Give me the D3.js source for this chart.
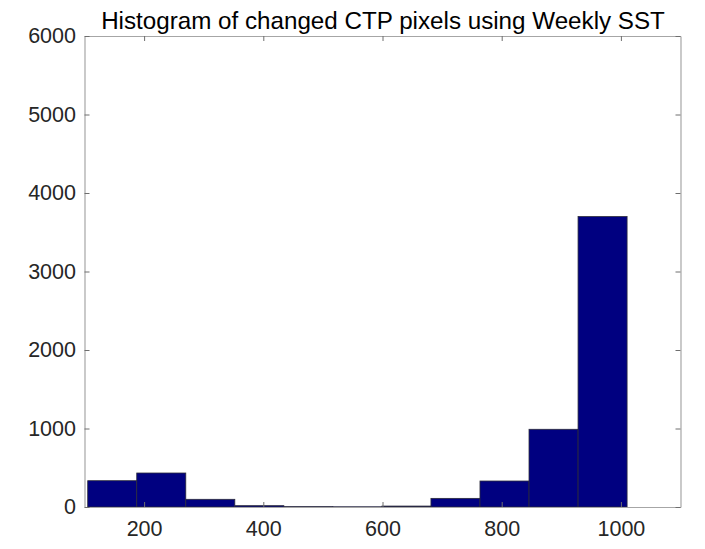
<!DOCTYPE html>
<html>
<head>
<meta charset="utf-8">
<script src="https://cdn.jsdelivr.net/npm/d3@7/dist/d3.min.js"></script>
<style>
  html, body { margin: 0; padding: 0; background: #fff; }
  svg { display: block; font-family: "Liberation Sans", Arial, Helvetica, sans-serif; }
</style>
</head>
<body>
<svg id="chart" width="705" height="549"></svg>
<script>
// Histogram bins: left edge of the first bin, common bin width, and counts
const binStart = 105.4;
const binWidth = 82.27;
const counts = [335, 433, 98, 17, 5, 3, 12, 110, 331, 990, 3700];

// Axis limits and tick values
const xDomain = [100, 1100];
const yDomain = [0, 6000];
const xTicks = [200, 400, 600, 800, 1000];
const yTicks = [0, 1000, 2000, 3000, 4000, 5000, 6000];
const titleText = "Histogram of changed CTP pixels using Weekly SST";

const bins = counts.map((c, i) => ({
  x0: binStart + i * binWidth,
  x1: binStart + (i + 1) * binWidth,
  count: c
}));

const svg = d3.select("#chart");
const plotLeft = 84.5, plotRight = 680.5, plotTop = 36, plotBottom = 507;

const x = d3.scaleLinear().domain(xDomain).range([plotLeft, plotRight]);
const y = d3.scaleLinear().domain(yDomain).range([plotBottom, plotTop]);

const textColor = "#262626";
const axisColor = "#a6a6a6";
const tickColor = "#6e6e6e";
const tickLen = 5;

// Bars
svg.append("g")
  .selectAll("rect")
  .data(bins)
  .join("rect")
  .attr("x", d => x(d.x0))
  .attr("width", d => x(d.x1) - x(d.x0))
  .attr("y", d => y(d.count))
  .attr("height", d => y(0) - y(d.count))
  .attr("fill", "#000080")
  .attr("stroke", "#2b2b3a")
  .attr("stroke-width", 0.8);

// Axes box (ticks drawn inward on all four sides)
const fontSize = 21.5;
const plain = d3.format("d");

const xAxisBottom = d3.axisBottom(x).tickValues(xTicks).tickFormat(plain).tickSizeInner(-tickLen).tickSizeOuter(0).tickPadding(14);
const xAxisTop = d3.axisTop(x).tickValues(xTicks).tickSizeInner(-tickLen).tickSizeOuter(0).tickFormat("");
const yAxisLeft = d3.axisLeft(y).tickValues(yTicks).tickFormat(plain).tickSizeInner(-tickLen).tickSizeOuter(0).tickPadding(8.5);
const yAxisRight = d3.axisRight(y).tickValues(yTicks).tickSizeInner(-tickLen).tickSizeOuter(0).tickFormat("");

function styleAxis(g) {
  g.select(".domain").attr("stroke", axisColor).attr("stroke-width", 1.2);
  g.selectAll(".tick line").attr("stroke", tickColor).attr("stroke-width", 1);
  g.selectAll(".tick text")
    .attr("fill", textColor)
    .style("font-size", fontSize + "px")
    .style("font-family", "'Liberation Sans', Arial, Helvetica, sans-serif");
}

svg.append("g").attr("transform", `translate(0,${plotBottom})`).call(xAxisBottom).call(styleAxis);
svg.append("g").attr("transform", `translate(0,${plotTop})`).call(xAxisTop).call(styleAxis);
svg.append("g").attr("transform", `translate(${plotLeft},0)`).call(yAxisLeft).call(styleAxis);
svg.append("g").attr("transform", `translate(${plotRight},0)`).call(yAxisRight).call(styleAxis);

// Title
svg.append("text")
  .attr("x", (plotLeft + plotRight) / 2 + 0.5)
  .attr("y", 28.5)
  .attr("text-anchor", "middle")
  .attr("fill", "#000")
  .style("font-size", "24.2px")
  .text(titleText);
</script>
</body>
</html>
